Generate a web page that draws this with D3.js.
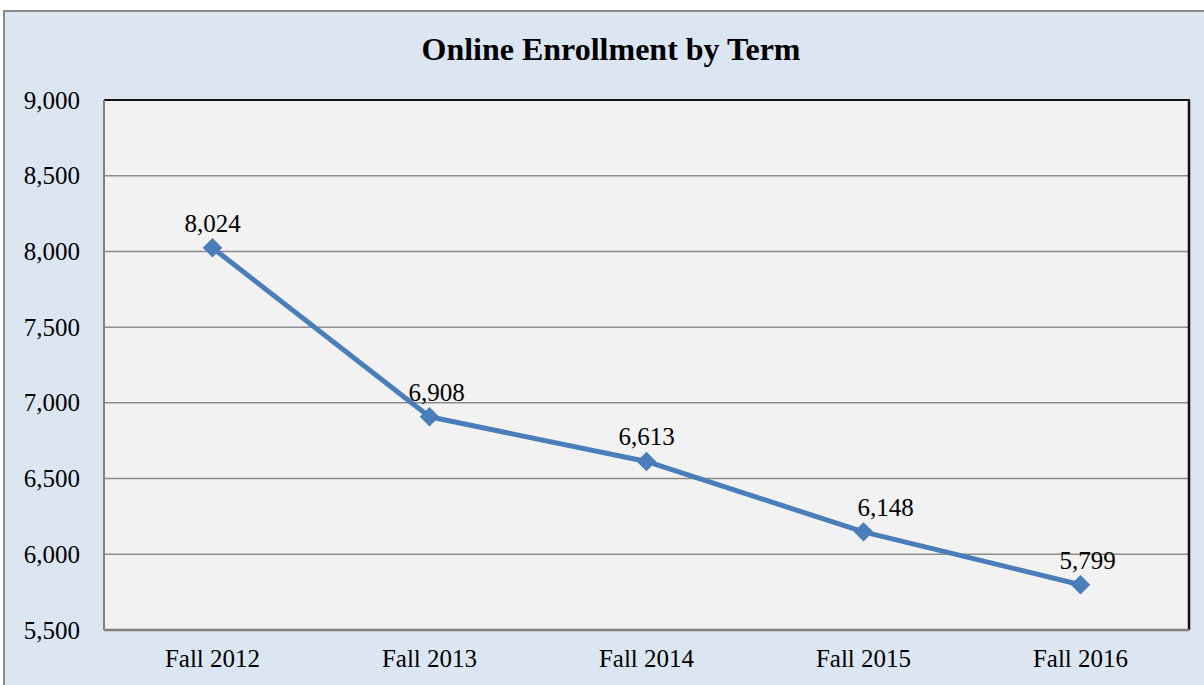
<!DOCTYPE html>
<html>
<head>
<meta charset="utf-8">
<script src="https://cdn.jsdelivr.net/npm/d3@7"></script>
<style>
  html, body { margin: 0; padding: 0; background: #ffffff; }
  text { font-family: "Liberation Serif", "Times New Roman", serif; fill: #000; }
</style>
</head>
<body>
<div id="chart"></div>
<script>
const width = 1204;
const height = 685;

// data
const terms = ['Fall 2012', 'Fall 2013', 'Fall 2014', 'Fall 2015', 'Fall 2016'];
const enrollment = [8024, 6908, 6613, 6148, 5799];
const yTicks = [5500, 6000, 6500, 7000, 7500, 8000, 8500, 9000];

const labelDx = [0, 7, 0, 22, 7];

const colorBg = '#dce6f2';
const colorPlot = '#f2f2f2';
const colorLine = '#4a7ebb';
const colorGrid = '#8c8c8c';
const fontSize = '25px';

const margin = { left: 104, top: 100, right: 1189, bottom: 630 };

const svg = d3.select('#chart')
    .append('svg')
    .attr('width', width)
    .attr('height', height);

// outer chart area
svg.append('rect')
    .attr('x', 4).attr('y', 11)
    .attr('width', width + 10).attr('height', height + 10)
    .attr('fill', colorBg)
    .attr('stroke', '#8a8a8a')
    .attr('stroke-width', 2);

svg.append('text')
    .attr('x', 611).attr('y', 60)
    .attr('text-anchor', 'middle')
    .style('font-size', '32px')
    .style('font-weight', 'bold')
    .text('Online Enrollment by Term');

const x = d3.scaleBand()
    .domain(terms)
    .range([margin.left, margin.right]);

const y = d3.scaleLinear()
    .domain([5500, 9000])
    .range([margin.bottom, margin.top]);

// plot area
svg.append('rect')
    .attr('x', margin.left).attr('y', margin.top)
    .attr('width', margin.right - margin.left)
    .attr('height', margin.bottom - margin.top)
    .attr('fill', colorPlot);

// gridlines
svg.append('g')
    .selectAll('line')
    .data(yTicks.slice(1, -1))
    .enter().append('line')
    .attr('x1', margin.left).attr('x2', margin.right)
    .attr('y1', d => y(d)).attr('y2', d => y(d))
    .attr('stroke', colorGrid)
    .attr('stroke-width', 1.5);

// plot border: shadowed look, dark top/right, grey left/bottom
svg.append('line')
    .attr('x1', margin.left).attr('x2', margin.right + 1)
    .attr('y1', margin.top).attr('y2', margin.top)
    .attr('stroke', '#111').attr('stroke-width', 2);
svg.append('line')
    .attr('x1', margin.right).attr('x2', margin.right)
    .attr('y1', margin.top).attr('y2', margin.bottom)
    .attr('stroke', '#111').attr('stroke-width', 2.5);
svg.append('line')
    .attr('x1', margin.left).attr('x2', margin.left)
    .attr('y1', margin.top).attr('y2', margin.bottom)
    .attr('stroke', '#808080').attr('stroke-width', 2);
svg.append('line')
    .attr('x1', margin.left).attr('x2', margin.right)
    .attr('y1', margin.bottom).attr('y2', margin.bottom)
    .attr('stroke', '#808080').attr('stroke-width', 2.5);

// y axis
const yAxis = svg.append('g')
    .attr('transform', 'translate(' + margin.left + ',0)')
    .call(d3.axisLeft(y).tickValues(yTicks).tickSize(0).tickPadding(24)
        .tickFormat(d3.format(',')));
yAxis.select('.domain').remove();
yAxis.selectAll('text')
    .style('font-size', fontSize)
    .attr('font-family', null);

// x axis
const xAxis = svg.append('g')
    .attr('transform', 'translate(0,' + margin.bottom + ')')
    .call(d3.axisBottom(x).tickSize(0).tickPadding(19));
xAxis.select('.domain').remove();
xAxis.selectAll('text')
    .style('font-size', fontSize)
    .attr('font-family', null);

// line
const line = d3.line()
    .x((d, i) => x(terms[i]) + x.bandwidth() / 2)
    .y(d => y(d));

svg.append('path')
    .datum(enrollment)
    .attr('d', line)
    .attr('fill', 'none')
    .attr('stroke', colorLine)
    .attr('stroke-width', 5)
    .attr('stroke-linejoin', 'round');

svg.append('g')
    .selectAll('path')
    .data(enrollment)
    .enter().append('path')
    .attr('d', d3.symbol().type(d3.symbolSquare).size(190))
    .attr('transform', (d, i) => 'translate(' + (x(terms[i]) + x.bandwidth() / 2) + ',' + y(d) + ') rotate(45)')
    .attr('fill', colorLine);

// data labels
svg.append('g')
    .selectAll('text')
    .data(enrollment)
    .enter().append('text')
    .attr('x', (d, i) => x(terms[i]) + x.bandwidth() / 2 + labelDx[i])
    .attr('y', d => y(d) - 16)
    .attr('text-anchor', 'middle')
    .style('font-size', fontSize)
    .text(d => d3.format(',')(d));
</script>
</body>
</html>
